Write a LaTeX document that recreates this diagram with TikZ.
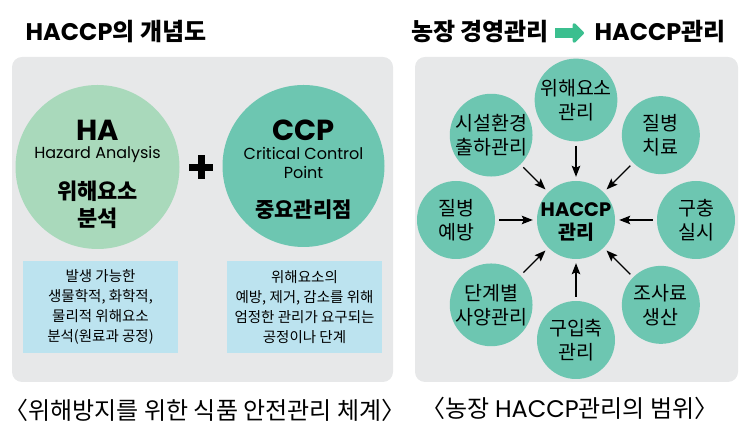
\documentclass[tikz,border=0pt]{standalone}
\usepackage{fontspec}
\setmainfont{Noto Sans CJK KR}
\newfontfamily\latinfont{Poppins}
\usepackage{tikz}
\usetikzlibrary{arrows.meta,positioning}
\definecolor{panelgray}{HTML}{E7E8E9}
\definecolor{hagreen}{HTML}{A9D9BB}
\definecolor{ccpteal}{HTML}{6DC6B1}
\definecolor{noteblue}{HTML}{BCE3EF}
\definecolor{arrowgreen}{HTML}{3BBF8F}
\tikzset{
  panel/.style     = {fill=panelgray, rounded corners=10pt},
  bigcircle/.style = {circle, minimum size=#1, inner sep=0pt},
  titletext/.style = {font=\fontsize{24}{24}\selectfont\bfseries},
  notebox/.style   = {fill=noteblue, minimum width=155pt, minimum height=92pt, align=center,
                      font=\fontsize{14.5}{20}\selectfont},
  ringnode/.style  = {circle, fill=ccpteal, minimum size=78pt, inner sep=0pt, align=center,
                      font=\fontsize{19.5}{24}\selectfont},
  ringarrow/.style = {black, line width=1.3pt, -{Stealth[length=11pt,width=8.5pt,inset=2pt]},
                      shorten >=4pt, shorten <=4pt},
}

\begin{document}
\begin{tikzpicture}[x=1pt,y=1pt,node distance=120pt]
      \useasboundingbox (0,0) rectangle (750,435);

      % left: HACCP concept
      \node[titletext] (lefttitle) at (116,403) {{\latinfont HACCP}의 개념도};
      \fill[panel] (12,53) rectangle (393,378);
      \node[bigcircle=164pt, fill=hagreen] (ha) at (97.5,268) {};
      \node[bigcircle=162pt, fill=ccpteal] (ccp) at (303.5,269) {};
      \node[font=\fontsize{29}{29}\selectfont\latinfont\bfseries] at ([yshift=37pt]ha.center) {HA};
      \node[font=\fontsize{16}{16}\selectfont\latinfont] at ([yshift=13pt]ha.center) {Hazard Analysis};
      \node[font=\fontsize{22}{27}\selectfont\bfseries, align=center] at ([yshift=-38pt]ha.center) {위해요소\\분석};
      \node[font=\fontsize{29}{29}\selectfont\latinfont\bfseries] at ([yshift=36pt]ccp.center) {CCP};
      \node[font=\fontsize{16}{19}\selectfont\latinfont, align=center] at ([yshift=3pt]ccp.center) {Critical Control\\Point};
      \node[font=\fontsize{21}{21}\selectfont\bfseries] at ([yshift=-44pt]ccp.center) {중요관리점};
      \fill[black] (189,264) rectangle (213,271);
      \fill[black] (197.5,255.5) rectangle (204.5,279.5);
      \node[notebox] (hanote) at (100.5,128) {발생 가능한\\생물학적, 화학적,\\물리적 위해요소\\분석(원료과 공정)};
      \node[notebox] (ccpnote) at (304.5,128) {위해요소의\\예방, 제거, 감소를 위해\\엄정한 관리가 요구되는\\공정이나 단계};
      \node[font=\fontsize{24}{24}\selectfont] (leftcaption) at (205,25) {〈위해방지를 위한 식품 안전관리 체계〉};

      % right: farm HACCP scope
      \node[titletext] (farmtitle) at (480,403) {농장 경영관리};
      \node[titletext] (hacctitle) at (660,403) {{\latinfont HACCP}관리};
      \coordinate (titletail) at (555,402);
      \coordinate (titletip) at (584,402);
      \draw[arrowgreen, line width=10pt, -{Triangle[length=12pt,width=23pt,round]}] (titletail) -- (titletip);
      \fill[panel] (415,53) rectangle (738,378);
      \node[ringnode] (hub) at (576,215) {};
      \node[font=\fontsize{19.5}{19.5}\selectfont\latinfont\bfseries] at ([yshift=10pt]hub.center) {HACCP};
      \node[font=\fontsize{19.5}{19.5}\selectfont\bfseries] at ([yshift=-12pt]hub.center) {관리};
      \node[ringnode, above of=hub] (hazard) {위해요소\\관리};
      \node[ringnode, above left of=hub] (facility) {시설환경\\출하관리};
      \node[ringnode, above right of=hub] (treat) {질병\\치료};
      \node[ringnode, left of=hub] (prevent) {질병\\예방};
      \node[ringnode, right of=hub] (deworm) {구충\\실시};
      \node[ringnode, below left of=hub] (feeding) {단계별\\사양관리};
      \node[ringnode, below right of=hub] (forage) {조사료\\생산};
      \node[ringnode, below of=hub] (purchase) {구입축\\관리};

      \path (hazard) edge[ringarrow] (hub);
      \path (facility) edge[ringarrow] (hub);
      \path (treat) edge[ringarrow] (hub);
      \path (prevent) edge[ringarrow] (hub);
      \path (deworm) edge[ringarrow] (hub);
      \path (feeding) edge[ringarrow] (hub);
      \path (forage) edge[ringarrow] (hub);
      \path (purchase) edge[ringarrow] (hub);
      \node[font=\fontsize{24}{24}\selectfont] (rightcaption) at (570,27) {〈농장 {\latinfont HACCP}관리의 범위〉};
\end{tikzpicture}
\end{document}
